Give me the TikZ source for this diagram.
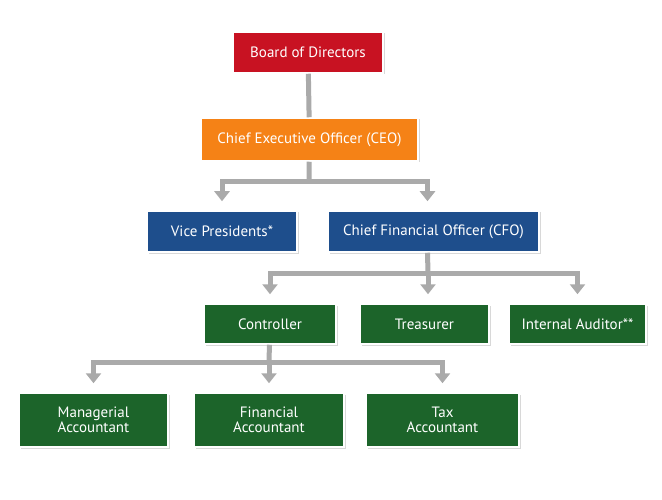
\documentclass[tikz,border=0pt]{standalone}
\usepackage{fontspec}
\setmainfont{PT Sans}
\usetikzlibrary{arrows.meta,shadows}

\definecolor{boardred}{RGB}{200,18,34}
\definecolor{ceoorange}{RGB}{245,130,22}
\definecolor{officeblue}{RGB}{30,78,140}
\definecolor{staffgreen}{RGB}{28,100,42}
\definecolor{linkgray}{RGB}{170,170,170}

\begin{document}
\begin{tikzpicture}[x=1pt, y=-1pt,
    box/.style={draw=white, line width=1.5pt, text=white, align=center, inner sep=0pt,
        minimum height=41pt, font=\fontsize{15}{15.5}\selectfont,
        drop shadow={shadow xshift=1.5pt, shadow yshift=-1.5pt, opacity=0.3}},
    stem/.style={draw=linkgray, line width=5pt},
    arrow/.style={stem, -{Triangle[width=15pt,length=10pt]}, shorten >=9pt}]
    % Page area (662 x 500, y grows downwards)
    \fill[white] (0,0) rectangle (662,500);
    \useasboundingbox (0,0) rectangle (662,500);

    % Top of the chart
    \node[box, fill=boardred, minimum width=150pt] (board) at (308,52.5) {Board of Directors};
    \node[box, fill=ceoorange, minimum width=217pt, minimum height=43pt] (ceo) at (309.5,139.5) {Chief Executive Officer (CEO)};

    % Officers
    \node[box, fill=officeblue, minimum width=150pt] (vp) at (222,231.5) {Vice Presidents*};
    \node[box, fill=officeblue, minimum width=211pt] (cfo) at (433.5,231.5) {Chief Financial Officer (CFO)};

    % Reporting to the CFO
    \node[box, fill=staffgreen, minimum width=132pt, minimum height=40pt] (ctrl) at (270,324) {Controller};
    \node[box, fill=staffgreen, minimum width=129pt, minimum height=40pt] (treas) at (424.5,324) {Treasurer};
    \node[box, fill=staffgreen, minimum width=137pt, minimum height=40pt] (audit) at (577.5,324) {Internal Auditor**};

    % Reporting to the controller
    \node[box, fill=staffgreen, minimum width=149pt, minimum height=54pt] (mgr) at (93.5,420) {Managerial\\Accountant};
    \node[box, fill=staffgreen, minimum width=150pt, minimum height=54pt] (fin) at (269,420) {Financial\\Accountant};
    \node[box, fill=staffgreen, minimum width=153pt, minimum height=54pt] (tax) at (442.5,420) {Tax\\Accountant};

    % Branch points of the connectors
    \coordinate (jceo) at (309,182);
    \coordinate (jcfo) at (428,273);
    \coordinate (jctrl) at (269,362);

    % Connectors
    \draw[stem] (board) -- (ceo);
    \draw[stem] (ceo) -- (jceo);
    \draw[arrow] (jceo) -| (vp);
    \draw[arrow] (jceo) -| ([xshift=-6pt]cfo.north);

    \draw[stem] ([xshift=-6pt]cfo.south) -- (jcfo);
    \draw[arrow] (jcfo) -| (ctrl);
    \draw[arrow] (jcfo) -- (jcfo |- treas.north);
    \draw[arrow] (jcfo) -| (audit);

    \draw[stem] (ctrl) -- (jctrl);
    \draw[arrow] (jctrl) -| (mgr);
    \draw[arrow] (jctrl) -- (fin);
    \draw[arrow] (jctrl) -| (tax);
\end{tikzpicture}
\end{document}
